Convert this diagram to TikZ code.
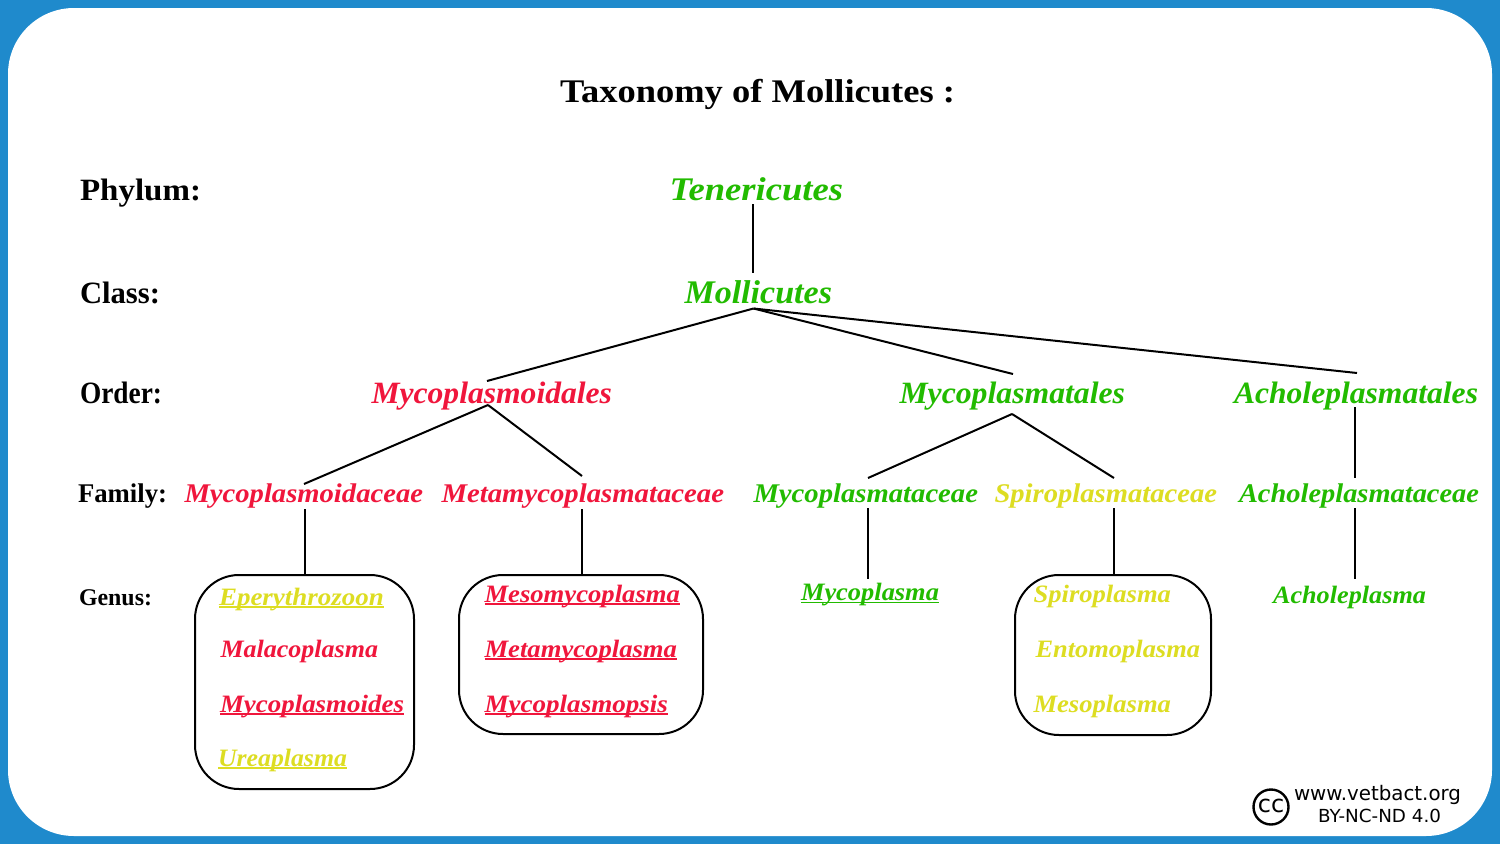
\documentclass[tikz,border=0pt]{standalone}
\usepackage{fontspec}
\usepackage{graphicx}
\setmainfont{Liberation Serif}
\newfontfamily\footfont{DejaVu Sans}
\definecolor{frameblue}{HTML}{1F8ACC}
\definecolor{taxred}{HTML}{F0163C}
\definecolor{taxgreen}{HTML}{22BB00}
\definecolor{taxyellow}{HTML}{DDDD22}
% fit text to a measured width
\newcommand{\fitw}[2]{\resizebox{#1pt}{\height}{#2}}
% underlined text, with the rule just below the baseline
\newcommand{\ulw}[2]{\resizebox{#1pt}{\height}{\setbox0\hbox{#2}\rlap{\rule[-2.6pt]{\wd0}{1.5pt}}\box0}}
\tikzset{
  x=1pt,y=-1pt,
  lab/.style={inner sep=0pt,outer sep=0pt,anchor=base west},
  rankname/.style={lab,font=\bfseries\fontsize{#1pt}{#1pt}\selectfont,text=black},
  taxon/.style={lab,font=\bfseries\itshape\fontsize{#1pt}{#1pt}\selectfont},
  red/.style={text=taxred},
  green/.style={text=taxgreen},
  yellow/.style={text=taxyellow},
  conn/.style={draw=black,line width=2pt},
  genusbox/.style={draw=black,line width=2pt,rounded corners=44pt,inner sep=0pt,outer sep=0pt,anchor=north west},
  foot/.style={inner sep=0pt,outer sep=0pt,anchor=base west,font=\footfont\fontsize{#1pt}{#1pt}\selectfont,text=black}
}
\begin{document}
\begin{tikzpicture}
\useasboundingbox (0,0) rectangle (1500,844);
\fill[frameblue] (0,0) rectangle (1500,844);
\fill[white,rounded corners=66pt] (8,8) rectangle (1492,836);

% genus boxes
\node[genusbox,minimum width=219pt,minimum height=214pt] (boxa) at (195,575) {};
\node[genusbox,minimum width=244pt,minimum height=159pt] (boxb) at (459,575) {};
\node[genusbox,minimum width=196pt,minimum height=160pt] (boxc) at (1015,575) {};

% title and ranks
\node[rankname=33] (title) at (560,102) {\fitw{395}{Taxonomy of Mollicutes :}};
\node[rankname=31] (phylum) at (80,200) {\fitw{121}{Phylum:}};
\node[rankname=31] (class) at (80,303) {\fitw{80}{Class:}};
\node[rankname=31] (order) at (80,403) {\fitw{82}{Order:}};
\node[rankname=27] (family) at (78,502) {\fitw{89}{Family:}};
\node[rankname=24] (genus) at (79,605) {\fitw{73}{Genus:}};

% phylum, class, order
\node[taxon=33,green] (ten) at (669.5,200.5) {\fitw{173.5}{Tenericutes}};
\node[taxon=33,green] (mol) at (684.5,303.5) {\fitw{147.5}{Mollicutes}};
\node[taxon=31,red] (oa) at (371.5,403) {\fitw{240.5}{Mycoplasmoidales}};
\node[taxon=31,green] (ob) at (899.5,403) {\fitw{225.5}{Mycoplasmatales}};
\node[taxon=31,green] (oc) at (1234,403) {\fitw{244}{Acholeplasmatales}};

% family
\node[taxon=27,red] (fa) at (184.5,502) {\fitw{238.5}{Mycoplasmoidaceae}};
\node[taxon=27,red] (fb) at (441.5,502) {\fitw{282.5}{Metamycoplasmataceae}};
\node[taxon=27,green] (fc) at (753.5,502) {\fitw{224.5}{Mycoplasmataceae}};
\node[taxon=27,yellow] (fd) at (994.5,502) {\fitw{222.5}{Spiroplasmataceae}};
\node[taxon=27,green] (fe) at (1239,502) {\fitw{240}{Acholeplasmataceae}};

% genus
\node[taxon=25,yellow] (ga) at (219,605) {\ulw{165}{Eperythrozoon}};
\node[taxon=25,red] (gb) at (220.5,657) {\fitw{157.5}{Malacoplasma}};
\node[taxon=25,red] (gc) at (220,712) {\ulw{184}{Mycoplasmoides}};
\node[taxon=25,yellow] (gd) at (218,766) {\ulw{129}{Ureaplasma}};
\node[taxon=25,red] (ge) at (484.5,602) {\ulw{195.5}{Mesomycoplasma}};
\node[taxon=25,red] (gf) at (484.5,657) {\ulw{192.5}{Metamycoplasma}};
\node[taxon=25,red] (gg) at (484.5,712) {\ulw{183.5}{Mycoplasmopsis}};
\node[taxon=25,green] (gh) at (801,600.5) {\ulw{138}{Mycoplasma}};
\node[taxon=25,yellow] (gi) at (1033.5,602) {\fitw{137.5}{Spiroplasma}};
\node[taxon=25,yellow] (gj) at (1035.5,657) {\fitw{164.5}{Entomoplasma}};
\node[taxon=25,yellow] (gk) at (1033.5,712) {\fitw{137.5}{Mesoplasma}};
\node[taxon=25,green] (gl) at (1273,603) {\fitw{153}{Acholeplasma}};

% connectors
\draw[conn] ([xshift=83.5pt,yshift=-3.5pt]ten.base west) -- ([xshift=68.5pt,yshift=30.5pt]mol.base west);
\draw[conn] ([xshift=69pt,yshift=-5pt]mol.base west) -- ([xshift=115.5pt,yshift=22pt]oa.base west);
\draw[conn] ([xshift=69pt,yshift=-5pt]mol.base west) -- ([xshift=113.5pt,yshift=29pt]ob.base west);
\draw[conn] ([xshift=69pt,yshift=-5pt]mol.base west) -- ([xshift=123pt,yshift=30pt]oc.base west);
\draw[conn] ([xshift=116.5pt,yshift=-2pt]oa.base west) -- ([xshift=119.5pt,yshift=18pt]fa.base west);
\draw[conn] ([xshift=116.5pt,yshift=-2pt]oa.base west) -- ([xshift=140.5pt,yshift=26pt]fb.base west);
\draw[conn] ([xshift=112.5pt,yshift=-11pt]ob.base west) -- ([xshift=114.5pt,yshift=24pt]fc.base west);
\draw[conn] ([xshift=112.5pt,yshift=-11pt]ob.base west) -- ([xshift=119.5pt,yshift=24pt]fd.base west);
\draw[conn] ([xshift=121pt,yshift=-4pt]oc.base west) -- ([xshift=116pt,yshift=24pt]fe.base west);
\draw[conn] ([xshift=120.5pt,yshift=-7pt]fa.base west) -- ([xshift=.5pt]boxa.north);
\draw[conn] ([xshift=140.5pt,yshift=-7pt]fb.base west) -- ([xshift=1pt]boxb.north);
\draw[conn] ([xshift=114.5pt,yshift=-6pt]fc.base west) -- ([xshift=67pt,yshift=22pt]gh.base west);
\draw[conn] ([xshift=119.5pt,yshift=-6pt]fd.base west) -- ([xshift=1pt]boxc.north);
\draw[conn] ([xshift=116pt,yshift=-6pt]fe.base west) -- ([xshift=82pt,yshift=24pt]gl.base west);

% licence mark
\node[draw=black,line width=2.4pt,circle,minimum size=35pt,inner sep=0pt,font=\footfont\fontsize{24pt}{24pt}\selectfont] (cc) at (1271,807) {\raisebox{1.5pt}{cc}};
\node[foot=20] (web) at (1294,800) {\fitw{167}{www.vetbact.org}};
\node[foot=18] (lic) at (1318,822) {\fitw{123}{BY-NC-ND 4.0}};
\end{tikzpicture}
\end{document}
